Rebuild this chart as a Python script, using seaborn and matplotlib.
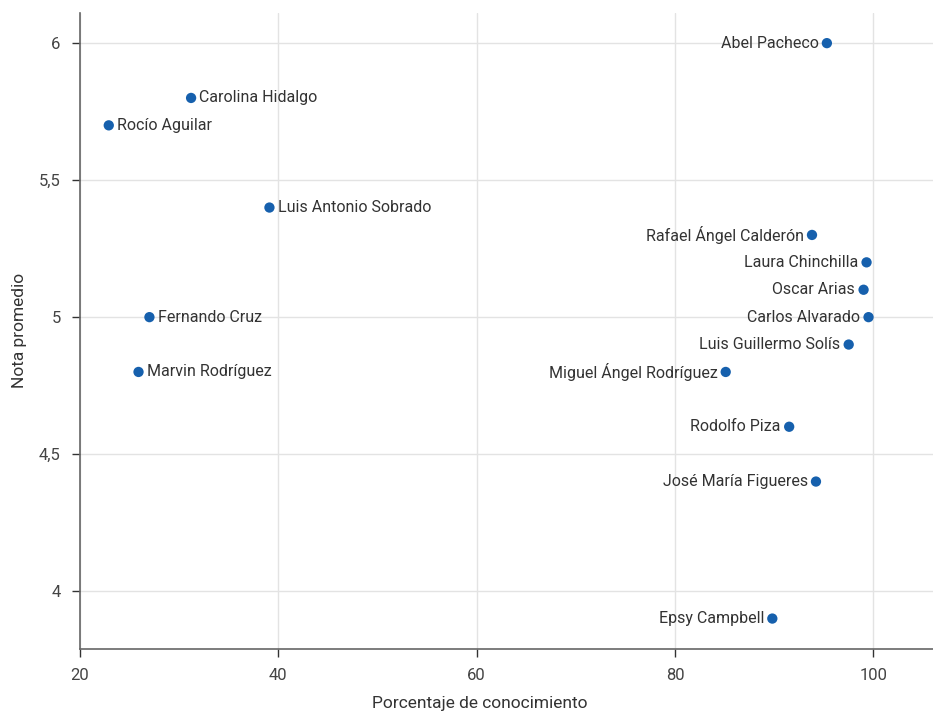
import matplotlib
matplotlib.use("Agg")
import matplotlib.pyplot as plt
import seaborn as sns
import pandas as pd

nombres = ["Abel Pacheco", "Carolina Hidalgo", "Rocío Aguilar", "Luis Antonio Sobrado",
           "Rafael Ángel Calderón", "Laura Chinchilla", "Oscar Arias", "Carlos Alvarado",
           "Fernando Cruz", "Luis Guillermo Solís", "Miguel Ángel Rodríguez", "Marvin Rodríguez",
           "Rodolfo Piza", "José María Figueres", "Epsy Campbell"]
conocimiento = [95.3, 31.2, 22.9, 39.1, 93.8, 99.3, 99.0, 99.5, 27.0, 97.5, 85.1, 25.9, 91.5, 94.2, 89.8]
nota = [6.0, 5.8, 5.7, 5.4, 5.3, 5.2, 5.1, 5.0, 5.0, 4.9, 4.8, 4.8, 4.6, 4.4, 3.9]

x_ticks = [20, 40, 60, 80, 100]
y_ticks = [4, 4.5, 5, 5.5, 6]
y_tick_labels = ["4", "4,5", "5", "5,5", "6"]

df = pd.DataFrame({"nombre": nombres, "conocimiento": conocimiento, "nota": nota})

sns.set_theme(style="white")
plt.rcParams["font.family"] = ["Roboto", "DejaVu Sans"]

fig = plt.figure(figsize=(9.33, 7.12), dpi=100)
ax = fig.add_axes([80/933, (712-648.7)/712, (933-80)/933, (648.7-13)/712])

ax.set_axisbelow(True)
ax.grid(True, color="#e3e3e3", linewidth=1)
sns.scatterplot(data=df, x="conocimiento", y="nota", ax=ax, color="#1660ad",
                s=55, edgecolor="none", zorder=3)

for _, r in df.iterrows():
    if r["conocimiento"] < 60:
        ax.annotate(r["nombre"], (r["conocimiento"], r["nota"]), xytext=(6, 0),
                    textcoords="offset points", ha="left", va="center",
                    fontsize=11.5, color="#333333")
    else:
        ax.annotate(r["nombre"], (r["conocimiento"], r["nota"]), xytext=(-6, 0),
                    textcoords="offset points", ha="right", va="center",
                    fontsize=11.5, color="#333333")

ax.set_xlim(20, 106)
ax.set_ylim(3.79, 6.11)
ax.set_xticks(x_ticks)
ax.set_xticklabels([str(t) for t in x_ticks])
ax.set_yticks(y_ticks)
ax.set_yticklabels(y_tick_labels)
ax.tick_params(axis="both", which="major", length=6, width=1, color="#333333",
               labelsize=12, labelcolor="#444444", direction="out", bottom=True, left=True)
ax.tick_params(axis="y", pad=8)
ax.tick_params(axis="x", pad=8)

for side in ["top", "right"]:
    ax.spines[side].set_visible(False)
for side in ["left", "bottom"]:
    ax.spines[side].set_color("#666666")
    ax.spines[side].set_linewidth(1.2)

ax.set_xlabel("Porcentaje de conocimiento", fontsize=12.5, color="#333333")
ax.set_ylabel("Nota promedio", fontsize=12.5, color="#333333")
ax.xaxis.set_label_coords(0.469, -0.075)
ax.yaxis.set_label_coords(-0.062, 0.5)

fig.savefig("out.png", dpi=100)
